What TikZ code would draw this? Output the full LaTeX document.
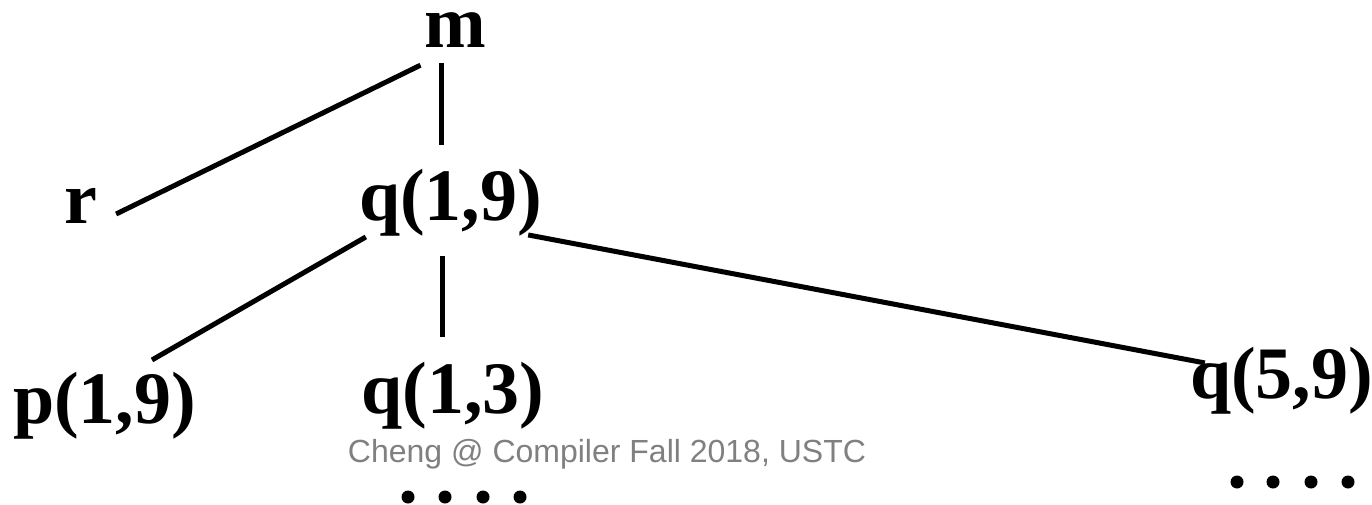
\documentclass[tikz,border=0pt]{standalone}
\usepackage{fontspec}
\setmainfont{Liberation Serif}
\newfontfamily\footfont{Liberation Sans}
\usepackage{xcolor}
\usepackage{tikz}
\usetikzlibrary{positioning, calc}
\definecolor{footgray}{HTML}{808080}

\tikzset{
  term/.style={font=\fontsize{74}{74}\selectfont\bfseries, inner sep=0pt, anchor=base},
  edge/.style={line width=5pt},
  dot/.style={fill=black}
}

\begin{document}
\begin{tikzpicture}[x=1pt, y=-1pt]
  \useasboundingbox (0,0) rectangle (1372,505);

  % call tree
  \node[term] (m)   at (455.5,48)  {m};
  \node[term] (r)   at (81,223)    {r};
  \node[term] (q19) at (450.5,220) {q(1,9)};
  \node[term] (p19) at (104.5,423) {p(1,9)};
  \node[term] (q13) at (453,413)   {q(1,3)};
  \node[term] (q59) at (1281.5,398) {q(5,9)};

  \draw[edge] ($(m.south west)+(-4,17)$) -- ($(r.base east)+(18.5,-9)$);
  \draw[edge] ($(m.south)+(-14.5,15)$) -- ($(q19.north)+(-9.5,-23.5)$);
  \draw[edge] ($(q19.south west)+(7,1)$) -- ($(p19.north)+(47.5,-11.5)$);
  \draw[edge] ($(q19.south)+(-8.5,20)$) -- ($(q13.north)+(-11,-24.5)$);
  \draw[edge] ($(q19.south east)+(-14,-1)$) -- ($(q59.north west)+(15,16.5)$);

  \node[font=\footfont\fontsize{32}{32}\selectfont, text=footgray, inner sep=0pt, anchor=base]
    (footer) at (607,462) {Cheng @ Compiler Fall 2018, USTC};

  % more calls below
  \foreach \x in {408,445,483,520}
    \fill[dot] (\x,497) circle (6.5pt);
  \foreach \x in {1237,1273,1311,1348}
    \fill[dot] (\x,482) circle (6.5pt);
\end{tikzpicture}
\end{document}
